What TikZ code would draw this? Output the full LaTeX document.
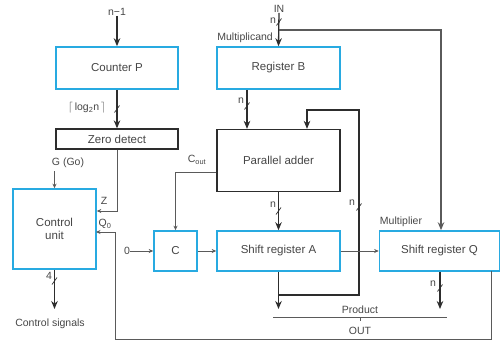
\documentclass[tikz,border=0pt]{standalone}
\usepackage{fontspec}
\setmainfont{Liberation Sans}
\usetikzlibrary{arrows.meta}
\definecolor{boxblue}{RGB}{40,170,225}
\definecolor{wirec}{RGB}{45,45,45}
\definecolor{thinc}{RGB}{90,90,90}
\definecolor{txtc}{RGB}{70,70,70}
\tikzset{
  bluebox/.style={draw=boxblue, line width=1.6pt, inner sep=0pt, fill=white, text=txtc},
  blackbox/.style={draw=wirec, line width=1.3pt, inner sep=0pt, fill=white, text=txtc},
  bigwire/.style={draw=wirec, line width=1.3pt},
  bigarr/.style={bigwire, -{Stealth[length=8pt,width=6.5pt]}},
  thinwire/.style={draw=thinc, line width=0.8pt},
  smallarr/.style={thinwire, -{Stealth[length=4.5pt,width=4pt]}},
  lbl/.style={inner sep=0pt, font=\fontsize{10.5}{12}\selectfont, text=txtc},
  busslash/.pic={\draw[line width=0.7pt, draw=wirec] (-2.5,3.5) -- (2.5,-3.5);}
}
\begin{document}
\begin{tikzpicture}[x=1pt,y=-1pt,font=\fontsize{11.5}{13}\selectfont]
\useasboundingbox (0,0) rectangle (501,341);

% boxes
\node[bluebox, minimum width=122pt, minimum height=42pt] (cntP) at (117,68) {Counter P};
\node[blackbox, minimum width=122pt, minimum height=20pt] (zd) at (117,139) {Zero detect};
\node[bluebox, minimum width=123pt, minimum height=42pt] (regB) at (278.5,68) {Register B};
\node[blackbox, minimum width=123pt, minimum height=62pt] (padd) at (278.5,160.5) {Parallel adder};
\node[bluebox, minimum width=123pt, minimum height=40pt] (shA) at (278.5,251) {Shift register A};
\node[bluebox, minimum width=120pt, minimum height=40pt] (shQ) at (439.5,251) {Shift register Q};
\node[bluebox, minimum width=43pt, minimum height=40pt] (cbox) at (175.5,251) {C};
\node[bluebox, minimum width=83pt, minimum height=80pt, align=center] (cu) at (54.5,229) {Control\\unit};

% labels
\node[lbl] (tn1) at (117,12) {n−1};
\node[lbl] (lg) at (87,108) {$\lceil$\,log\textsubscript{2}n\,$\rceil$};
\node[lbl] (gl) at (68,163) {G (Go)};
\node[lbl] (zl) at (104,201) {Z};
\node[lbl] (q0l) at (105,224) {Q\textsubscript{0}};
\node[lbl] (coutl) at (197,160) {C\textsubscript{out}};
\node[lbl] (zero) at (127,251) {0};
\node[lbl] (fourl) at (49,276) {4};
\node[lbl] (csl) at (50,324) {Control signals};
\node[lbl] (inl) at (279,9) {IN};
\node[lbl] (nin) at (273,21) {n};
\node[lbl, anchor=east] (mcl) at (273,38) {Multiplicand};
\node[lbl] (nb) at (241,101) {n};
\node[lbl] (na) at (273,205) {n};
\node[lbl] (nf) at (352,203) {n};
\node[lbl] (nq) at (433,284) {n};
\node[lbl] (mpl) at (401,222) {Multiplier};
\node[lbl] (prl) at (360,310) {Product};
\node[lbl] (outl) at (360,331) {OUT};

% coordinates
\coordinate (gtop) at (54.5,171);
\coordinate (zc) at (0,211);
\coordinate (qout) at (491,271);
\coordinate (qlow) at (115,339);
\coordinate (q0in) at (96,232);
\coordinate (csend) at (54.5,309);
\coordinate (inbr) at (278.5,30);
\coordinate (brc) at (441,30);
\coordinate (rbx) at (247,0);
\coordinate (fbj) at (278.5,295);
\coordinate (fbr) at (359,110);
\coordinate (fbin) at (307,0);
\coordinate (aout) at (278.5,309);
\coordinate (qx) at (440,0);
\coordinate (qend) at (440,309);
\coordinate (pl) at (273,317);
\coordinate (pr) at (447,317);
\coordinate (pm) at (360,317);
\coordinate (co) at (0,172);

% thick connectors
\draw[bigarr] (tn1.south) -- (cntP.north);
\draw[bigarr] (cntP.south) -- (zd.north);
\pic at (117,109) {busslash};
\draw[bigarr] (inl.south) -- (regB.north);
\pic at (279,22) {busslash};
\draw[bigarr, draw=thinc] (inbr) -- (brc) -- (brc |- shQ.north);
\draw[bigarr] (regB.south -| rbx) -- (padd.north -| rbx);
\pic at (247,106) {busslash};
\draw[bigarr] (fbj) -| (fbr) -| (padd.north -| fbin);
\pic at (359,207) {busslash};
\draw[bigarr] (padd.south) -- (shA.north);
\pic at (278.5,211) {busslash};
\draw[bigarr] (shA.south) -- (aout);
\draw[bigarr] (shQ.south -| qx) -- (qend);
\pic at (440,288) {busslash};
\draw[bigarr] (cu.south) -- (csend);
\pic at (54.5,281) {busslash};

% thin connectors
\draw[smallarr] (gtop) -- (gtop |- cu.north);
\draw[smallarr] (zd.south) |- (cu.east |- zc);
\draw[smallarr] (qout) |- (qlow) |- (q0in);
\draw[smallarr] (padd.west |- co) -| (cbox.north);
\draw[smallarr] (zero) -- (cbox);
\draw[smallarr] (cbox) -- (shA);
\draw[smallarr] (shA) -- (shQ);
\draw[thinwire] (pl) -- (pr);
\draw[thinwire] (pm) -- ++(0,4);
\end{tikzpicture}
\end{document}
